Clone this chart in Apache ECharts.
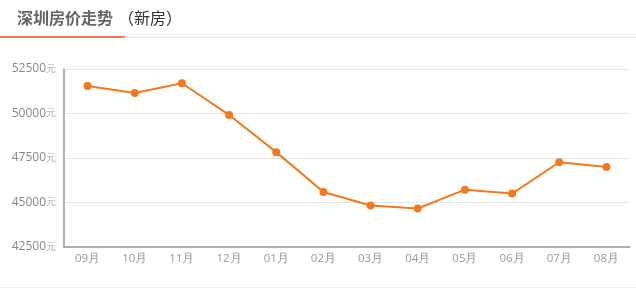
<!DOCTYPE html>
<html><head><meta charset="utf-8">
<script src="https://cdn.jsdelivr.net/npm/echarts@6/dist/echarts.min.js"></script>
<style>html,body{margin:0;padding:0;background:#fff}#c{width:636px;height:290px}</style>
</head><body><div id="c"></div>
<script>
var months = ['09月','10月','11月','12月','01月','02月','03月','04月','05月','06月','07月','08月'];
var prices = [51550, 51150, 51700, 49920, 47830, 45590, 44830, 44660, 45720, 45500, 47260, 47000];
var yTicks = [42500, 45000, 47500, 50000, 52500];

var chart = echarts.init(document.getElementById('c'));
chart.setOption({
  animation: false,
  graphic: [
    {type:'text', left:17, top:10, style:{text:'深圳房价走势', font:'bold 16px "Noto Sans CJK SC"', fill:'#666'}},
    {type:'text', left:118, top:10, style:{text:'（新房）', font:'16px "Noto Sans CJK SC"', fill:'#333'}},
    {type:'rect', shape:{x:0, y:37, width:636, height:1}, style:{fill:'#e8e8e8'}},
    {type:'rect', shape:{x:0, y:36, width:125, height:2}, style:{fill:'#f07a50'}},
    {type:'rect', shape:{x:0, y:287, width:636, height:1}, style:{fill:'#f0f0f0'}}
  ],
  grid: {left:64, right:6, top:69, bottom:43},
  xAxis: {
    type:'category', data: months, boundaryGap:true,
    axisLine:{lineStyle:{color:'#999', width:1.5}},
    axisTick:{alignWithLabel:true, length:3, lineStyle:{color:'#ddd'}},
    axisLabel:{color:'#999', fontSize:11.5, margin:6, fontFamily:'Open Sans'}
  },
  yAxis: {
    type:'value', min: yTicks[0], max: yTicks[yTicks.length-1], interval:2500,
    axisLine:{show:true, lineStyle:{color:'#999', width:1.5}},
    axisTick:{show:false},
    splitLine:{lineStyle:{color:'#e6e6e6'}},
    axisLabel:{color:'#888', fontSize:12, margin:8, fontFamily:'Open Sans',
      formatter: function(v){ return v + '{u|元}'; },
      rich:{u:{color:'#aaa', fontSize:10}}}
  },
  series: [{
    type:'line', data: prices, symbol:'circle', symbolSize:8,
    lineStyle:{color:'#f07a20', width:2},
    itemStyle:{color:'#f07a20'}
  }]
});
</script></body></html>
